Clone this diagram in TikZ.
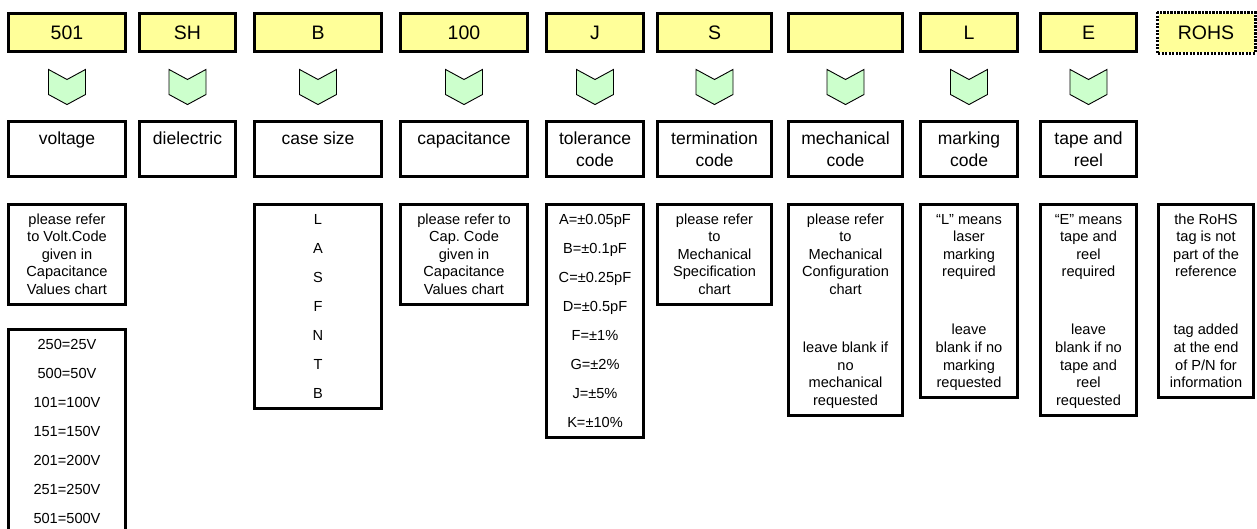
\documentclass[tikz,border=0pt]{standalone}
\usepackage{fontspec}
\setmainfont{Liberation Sans}
\usepackage{tikz}
\usetikzlibrary{
  positioning,
  shapes.symbols,
  calc
}
\usepackage{xcolor}
\definecolor{codeYellow}{rgb}{1,1,0.6}
\definecolor{arrowGreen}{rgb}{0.8,1,0.8}
\newcommand{\codeBox}[4]{\node[codeBox,minimum width=#3] (#1) at (#2,32.5) {#4};}
\newcommand{\codeArrow}[2]{\node[codeArrow] (#1) at (#2,87) {};}
\newcommand{\fieldBox}[4]{\node[fieldBox,minimum width=#3] (#1) at (#2,149) {#4};}
\newcommand{\topStrut}{\rule{0pt}{16pt}}
\frenchspacing
\tikzset{
  codeBox/.style={
    rectangle,
    draw,
    line width=3pt,
    fill=codeYellow,
    minimum height=38,
    inner sep=0pt,
    font=\fontsize{19.5}{23}\selectfont
  }
}
\tikzset{
  codeArrow/.style={
    signal,
    signal to=south,
    signal from=north,
    signal pointer angle=123,
    draw,
    line width=0.9pt,
    fill=arrowGreen,
    minimum width=37,
    minimum height=15,
    inner sep=0pt
  }
}
\tikzset{
  fieldBox/.style={
    rectangle,
    draw,
    line width=3pt,
    minimum height=55,
    inner sep=0pt,
    align=center,
    font=\fontsize{17.5}{21.7}\selectfont
  }
}
\tikzset{
  infoBox/.style={
    rectangle,
    draw,
    line width=3pt,
    anchor=north,
    inner xsep=2pt,
    inner ysep=4pt,
    align=center,
    font=\fontsize{14.6}{17.6}\selectfont,
    execute at end node={\rule[-6pt]{0pt}{6pt}}
  }
}

\begin{document}
\begin{tikzpicture}[x=1pt, y=-1pt]
  \useasboundingbox (0,0) rectangle (1257,528);
  % part number fields
  \codeBox{volt}{67}{117}{501}
  \codeBox{diel}{187.5}{96}{SH}
  \codeBox{case}{318}{127}{B}
  \codeBox{cap}{464}{127}{100}
  \codeBox{tol}{595}{97}{J}
  \codeBox{term}{714.5}{114}{S}
  \codeBox{mech}{845.5}{114}{}
  \codeBox{mark}{969}{97}{L}
  \codeBox{tape}{1088.5}{96}{E}
  \node[codeBox,minimum width=95,draw=none] (rohs) at (1206,32.5) {ROHS};
  \draw[line width=3pt,dash pattern=on 2.2pt off 1.3pt]
    (rohs.north west) rectangle (rohs.south east);
  % arrows
  \foreach \n/\x in {volt/67,diel/187.5,case/318,cap/464,tol/595,
                     term/714.5,mech/845.5,mark/969,tape/1088.5}
    \codeArrow{\n Arrow}{\x};
  % what each field means
  \fieldBox{voltName}{67}{117}{voltage\\~}
  \fieldBox{dielName}{187.5}{96}{dielectric\\~}
  \fieldBox{caseName}{318}{127}{case size\\~}
  \fieldBox{capName}{464}{127}{capacitance\\~}
  \fieldBox{tolName}{595}{97}{tolerance\\code}
  \fieldBox{termName}{714.5}{114}{termination\\code}
  \fieldBox{mechName}{845.5}{114}{mechanical\\code}
  \fieldBox{markName}{969}{97}{marking\\code}
  \fieldBox{tapeName}{1088.5}{96}{tape and\\reel}
  % details
  \node[infoBox,minimum width=117] (voltInfo) at (67,202.5)
    {\topStrut please refer\\to Volt.Code\\given in\\Capacitance\\Values chart};
  \node[infoBox,minimum width=117] (voltList) at (67,327.5)
    {\topStrut 250=25V\\[11.4pt]500=50V\\[11.4pt]101=100V\\[11.4pt]151=150V\\[11.4pt]201=200V\\[11.4pt]251=250V\\[11.4pt]501=500V};
  \node[infoBox,minimum width=127] (caseList) at (318,202.5)
    {\topStrut L\\[11.4pt]A\\[11.4pt]S\\[11.4pt]F\\[11.4pt]N\\[11.4pt]T\\[11.4pt]B};
  \node[infoBox,minimum width=127] (capInfo) at (464,202.5)
    {\topStrut please refer to\\Cap. Code\\given in\\Capacitance\\Values chart};
  \node[infoBox,minimum width=97] (tolList) at (595,202.5)
    {\topStrut A=±0.05pF\\[11.4pt]B=±0.1pF\\[11.4pt]C=±0.25pF\\[11.4pt]D=±0.5pF\\[11.4pt]F=±1\%\\[11.4pt]G=±2\%\\[11.4pt]J=±5\%\\[11.4pt]K=±10\%};
  \node[infoBox,minimum width=114] (termInfo) at (714.5,202.5)
    {\topStrut please refer\\to\\Mechanical\\Specification\\chart};
  \node[infoBox,minimum width=114] (mechInfo) at (845.5,202.5)
    {\topStrut please refer\\to\\Mechanical\\Configuration\\chart\\[40.4pt]leave blank if\\no\\mechanical\\requested};
  \node[infoBox,minimum width=97] (markInfo) at (969,202.5)
    {\topStrut “L” means\\laser\\marking\\required\\[40.4pt]leave\\blank if no\\marking\\requested};
  \node[infoBox,minimum width=96] (tapeInfo) at (1088.5,202.5)
    {\topStrut “E” means\\tape and\\reel\\required\\[40.4pt]leave\\blank if no\\tape and\\reel\\requested};
  \node[infoBox,minimum width=95] (rohsInfo) at (1206,202.5)
    {\topStrut the RoHS\\tag is not\\part of the\\reference\\[40.4pt]tag added\\at the end\\of P/N for\\information};
\end{tikzpicture}
\end{document}
